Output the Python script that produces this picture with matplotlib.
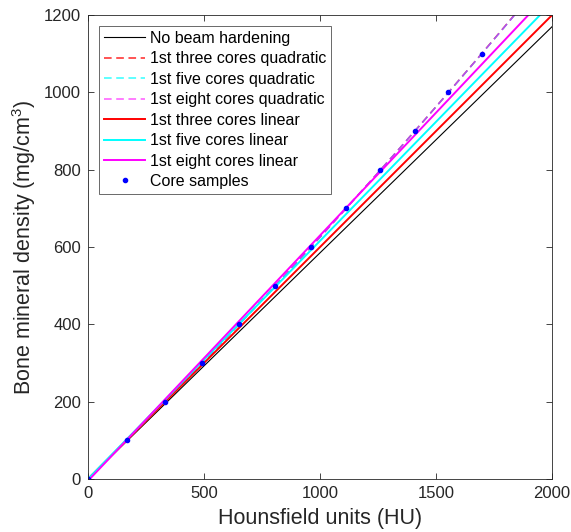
import matplotlib
matplotlib.use("Agg")
import matplotlib.pyplot as plt
import numpy as np

# core samples
hu_cores = [0, 167, 330, 492, 650, 808, 963, 1112, 1260, 1409, 1553, 1697]
bmd_cores = [0, 100, 200, 300, 400, 500, 600, 700, 800, 900, 1000, 1100]

# fitted calibration curves (polyval coefficients, highest power first)
no_hardening = [0.585, 0.0]
three_quad = [3.30e-5, 0.5925, 0.0]
five_quad = [3.24e-5, 0.5932, 0.0]
eight_quad = [3.22e-5, 0.5936, 0.0]
three_lin = [0.600, 0.0]
five_lin = [0.616, 0.0]
eight_lin = [0.635, -5.0]

plt.rcParams['font.family'] = ['Liberation Sans', 'DejaVu Sans']
plt.rcParams['mathtext.fontset'] = 'custom'
plt.rcParams['mathtext.rm'] = 'Liberation Sans'

fig = plt.figure(figsize=(5.71, 5.32), dpi=100)
ax = fig.add_axes([0.154, 0.0996, 0.813, 0.8722])

hu = np.linspace(0, 2000, 201)
dash = (5, 3)
ax.plot(hu, np.polyval(no_hardening, hu), color='k', lw=0.8, label='No beam hardening')
ax.plot(hu, np.polyval(three_quad, hu), '--', dashes=dash, color='#ff0000', lw=1.1, alpha=0.85, label='1st three cores quadratic')
ax.plot(hu, np.polyval(five_quad, hu), '--', dashes=dash, color='#00ffff', lw=1.1, alpha=0.8, label='1st five cores quadratic')
ax.plot(hu, np.polyval(eight_quad, hu), '--', dashes=dash, color='#ff00ff', lw=1.1, alpha=0.65, label='1st eight cores quadratic')
ax.plot(hu, np.polyval(three_lin, hu), color='#ff0000', lw=1.4, label='1st three cores linear')
ax.plot(hu, np.polyval(five_lin, hu), color='#00ffff', lw=1.4, label='1st five cores linear')
ax.plot(hu, np.polyval(eight_lin, hu), color='#ff00ff', lw=1.4, label='1st eight cores linear')
ax.plot(hu_cores, bmd_cores, '.', color='#0000ff', ms=6, label='Core samples')

ax.set_xlim(0, 2000)
ax.set_ylim(0, 1200)
ax.set_xticks([0, 500, 1000, 1500, 2000])
ax.set_yticks(np.arange(0, 1201, 200))
ax.tick_params(direction='in', top=True, right=True, labelsize=12, colors='0.15',
               length=4, width=0.6, pad=5)
for s in ax.spines.values():
    s.set_color('0.15')
    s.set_linewidth(0.6)

ax.set_xlabel('Hounsfield units (HU)', fontsize=15.5, color='0.15', labelpad=5)
ax.set_ylabel('Bone mineral density (mg/cm$^3$)', fontsize=15.5, color='0.15', labelpad=4)

leg = ax.legend(loc='upper left', fontsize=11.5, frameon=True, fancybox=False,
                edgecolor='0.15', borderpad=0.3, labelspacing=0.34, handlelength=2.6,
                handletextpad=0.3, borderaxespad=0.7)
leg.get_frame().set_linewidth(0.6)

fig.savefig('out.png', dpi=100)
